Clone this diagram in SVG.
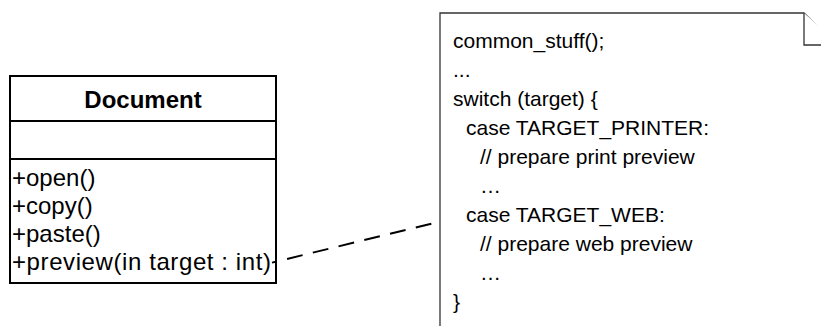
<svg xmlns="http://www.w3.org/2000/svg" width="821" height="326" viewBox="0 0 821 326">
  <style>
    .txt { font-family: "Liberation Sans", Arial, sans-serif; font-size: 24px; fill: #000; }
    .code { font-size: 21px; }
    .bold { font-weight: bold; }
    .box { fill: #fff; stroke: #000; stroke-width: 2; }
    .sep { stroke: #000; stroke-width: 2; }
    .note { fill: #fff; stroke: #333; stroke-width: 1.3; }
    .link { fill: none; stroke: #000; stroke-width: 2; stroke-dasharray: 16 10.5; stroke-dashoffset: 11; }
  </style>
  <rect width="821" height="326" fill="#fff"/>

  <!-- UML class: Document -->
  <g id="document">
    <rect class="box" x="10" y="76" width="266" height="207"/>
    <line class="sep" x1="10" y1="121" x2="276" y2="121"/>
    <line class="sep" x1="10" y1="159" x2="276" y2="159"/>
    <text class="txt bold" x="143" y="108" text-anchor="middle">Document</text>
    <text class="txt" x="12" y="186">+open()</text>
    <text class="txt" x="12" y="214">+copy()</text>
    <text class="txt" x="12" y="242">+paste()</text>
    <text class="txt" x="12" y="270" textLength="259" lengthAdjust="spacing">+preview(in target : int)</text>
  </g>

  <!-- comment note attached to preview() -->
  <g id="note">
    <path class="note" d="M440,340 V13 H804 L840,49 V340 Z"/>
    <path class="note" fill="none" d="M804,13 V45 H840"/>
    <text class="txt code" x="453" y="47.5">common_stuff();</text>
    <text class="txt code" x="453" y="76.5">...</text>
    <text class="txt code" x="453" y="105.5">switch (target) {</text>
    <text class="txt code" x="466" y="134.5">case TARGET_PRINTER:</text>
    <text class="txt code" x="480" y="163.5">// prepare print preview</text>
    <text class="txt code" x="480" y="192.5">…</text>
    <text class="txt code" x="466" y="221.5">case TARGET_WEB:</text>
    <text class="txt code" x="480" y="250.5">// prepare web preview</text>
    <text class="txt code" x="480" y="279.5">…</text>
    <text class="txt code" x="453" y="308.5">}</text>
  </g>

  <!-- connectors -->
  <g id="connectors">
    <line class="link" x1="272" y1="262.6" x2="440" y2="221.6"/>
  </g>
</svg>
